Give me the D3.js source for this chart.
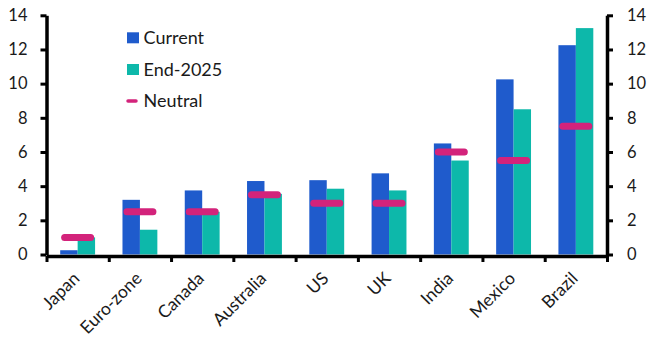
<!DOCTYPE html>
<html><head><meta charset="utf-8">
<script src="https://cdn.jsdelivr.net/npm/d3@7"></script>
<style>
body{margin:0;background:#fff}
svg{display:block}
text{font-family:Lato, "Noto Sans", sans-serif;fill:#1a1a1a}
</style>
</head><body><svg id="c" width="658" height="355"></svg>
<script>
const categories = ["Japan","Euro-zone","Canada","Australia","US","UK","India","Mexico","Brazil"];
const currentValues = [0.25,3.2,3.75,4.3,4.35,4.75,6.5,10.25,12.25];
const end2025Values = [1.0,1.45,2.5,3.55,3.85,3.75,5.5,8.5,13.25];
const neutralValues = [1.0,2.5,2.5,3.5,3.0,3.0,6.0,5.5,7.5];
const yTicks = [0,2,4,6,8,10,12,14];
const legendLabels = ["Current","End-2025","Neutral"];

const C_CUR = "#1F5BCC", C_END = "#0DB8AA", C_NEU = "#D3237B";
const svg = d3.select("#c");
const mLeft = 46.5, mRight = 607, mTop = 15.3, mBottom = 254.5;

const x = d3.scaleBand().domain(categories).range([mLeft, mRight]).padding(0);
const xs = d3.scaleBand().domain(["cur","end"]).range([0, x.bandwidth()*0.56]);
const xOff = x.bandwidth()*0.22;
const y = d3.scaleLinear().domain([0,14]).range([mBottom, mTop]);
const xb = d3.scaleLinear().domain([0, categories.length]).range([mLeft, mRight]);

// bars
const g = svg.append("g");
g.selectAll("rect.cur").data(categories).join("rect")
  .attr("x", d => x(d) + xOff + xs("cur")).attr("width", xs.bandwidth())
  .attr("y", (d,i) => y(currentValues[i])).attr("height", (d,i) => y(0) - y(currentValues[i]))
  .attr("fill", C_CUR);
g.selectAll("rect.end").data(categories).join("rect")
  .attr("x", d => x(d) + xOff + xs("end")).attr("width", xs.bandwidth())
  .attr("y", (d,i) => y(end2025Values[i])).attr("height", (d,i) => y(0) - y(end2025Values[i]))
  .attr("fill", C_END);
// neutral markers
g.selectAll("line.neu").data(categories).join("line")
  .attr("x1", d => x(d) + x.bandwidth()/2 - 13).attr("x2", d => x(d) + x.bandwidth()/2 + 13)
  .attr("y1", (d,i) => y(neutralValues[i])).attr("y2", (d,i) => y(neutralValues[i]))
  .attr("stroke", C_NEU).attr("stroke-width", 7).attr("stroke-linecap", "round");

// axes
function styleAxis(sel){
  sel.select(".domain").attr("stroke","#000").attr("stroke-width",3.5);
  sel.selectAll(".tick line").attr("stroke","#000").attr("stroke-width",3);
  sel.selectAll(".tick text").style("font-size","16.5px").attr("fill","#1a1a1a");
}
const yl = svg.append("g").attr("transform",`translate(${mLeft},0)`)
  .call(d3.axisLeft(y).tickValues(yTicks).tickSize(6).tickSizeOuter(0).tickPadding(13));
styleAxis(yl);
const yr = svg.append("g").attr("transform",`translate(${mRight},0)`)
  .call(d3.axisRight(y).tickValues(yTicks).tickSize(6).tickSizeOuter(0).tickPadding(14));
styleAxis(yr);
const xa = svg.append("g").attr("transform",`translate(0,${mBottom+1.5})`)
  .call(d3.axisBottom(xb).tickValues(d3.range(categories.length+1)).tickSize(6).tickSizeOuter(0).tickFormat(""));
styleAxis(xa);

// x labels
svg.append("g").selectAll("text").data(categories).join("text")
  .attr("transform", d => `translate(${x(d)+x.bandwidth()/2+3},${mBottom+25}) rotate(-45)`)
  .attr("text-anchor","end").style("font-size","17.5px").text(d => d);

// legend
const lg = svg.append("g");
const ly = [37.8, 69.5, 101];
lg.append("rect").attr("x",127).attr("y",ly[0]-5.5).attr("width",12).attr("height",11).attr("fill",C_CUR);
lg.append("rect").attr("x",127).attr("y",ly[1]-5.5).attr("width",12).attr("height",11).attr("fill",C_END);
lg.append("line").attr("x1",128).attr("x2",136).attr("y1",ly[2]).attr("y2",ly[2])
  .attr("stroke",C_NEU).attr("stroke-width",3.5).attr("stroke-linecap","round");
lg.selectAll("text").data(legendLabels).join("text")
  .attr("x",143.5).attr("y",(d,i)=>ly[i]).attr("dy","0.36em")
  .style("font-size","18px").text(d=>d);
</script>
</body></html>
